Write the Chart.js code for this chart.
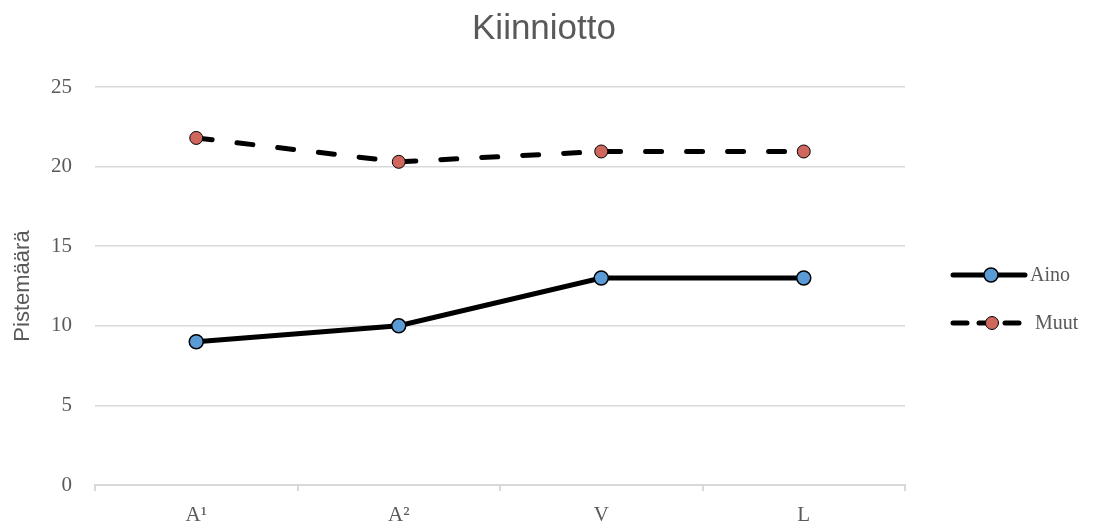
<!DOCTYPE html>
<html>
<head>
<meta charset="utf-8">
<script src="https://cdn.jsdelivr.net/npm/chart.js@4/dist/chart.umd.min.js"></script>
<style>
  html, body { margin: 0; padding: 0; background: #fff; }
  #wrap { width: 1095px; height: 528px; position: relative; }
</style>
</head>
<body>
<div id="wrap"><canvas id="c"></canvas></div>
<script>
const categories = ['A\u00B9', 'A\u00B2', 'V', 'L'];
const ainoValues = [9, 10, 13, 13];
const muutValues = [21.8, 20.3, 20.95, 20.95];
const yTicks = [0, 5, 10, 15, 20, 25];
const chartTitle = 'Kiinniotto';

const GRAY = '#595959';
const GRID = '#d9d9d9';
const SERIF = '"Liberation Serif", "DejaVu Serif", serif';
const SANS = '"Liberation Sans", Arial, sans-serif';

// Title centred on the whole canvas, plus a legend on the right drawn as
// a short line segment with the series marker in its middle
const titleAndLegend = {
  id: 'titleAndLegend',
  afterDraw(chart) {
    const ctx = chart.ctx;
    ctx.save();
    ctx.fillStyle = GRAY;
    ctx.font = '35px ' + SANS;
    ctx.textAlign = 'center';
    ctx.textBaseline = 'middle';
    ctx.fillText(chartTitle, 544, 29);
    ctx.restore();

    const rows = [
      { ds: chart.data.datasets[0], y: 275, x0: 953, x1: 1025, tx: 1030 },
      { ds: chart.data.datasets[1], y: 323, x0: 953, x1: 1027, tx: 1035 }
    ];
    rows.forEach(r => {
      ctx.save();
      ctx.strokeStyle = r.ds.borderColor;
      ctx.lineWidth = r.ds.borderWidth;
      ctx.lineCap = 'round';
      if (r.ds.borderDash) ctx.setLineDash([14, 12]);
      ctx.beginPath();
      ctx.moveTo(r.x0, r.y);
      ctx.lineTo(r.x1, r.y);
      ctx.stroke();
      ctx.setLineDash([]);
      ctx.beginPath();
      ctx.arc((r.x0 + r.x1) / 2 + 2, r.y, r.ds.pointRadius, 0, Math.PI * 2);
      ctx.fillStyle = r.ds.pointBackgroundColor;
      ctx.fill();
      ctx.lineWidth = r.ds.pointBorderWidth;
      ctx.strokeStyle = r.ds.pointBorderColor;
      ctx.stroke();
      ctx.fillStyle = GRAY;
      ctx.font = '20px ' + SERIF;
      ctx.textBaseline = 'middle';
      ctx.fillText(r.ds.label, r.tx, r.y + 1);
      ctx.restore();
    });
  }
};

new Chart(document.getElementById('c'), {
  type: 'line',
  data: {
    labels: categories,
    datasets: [
      {
        label: 'Aino',
        data: ainoValues,
        borderColor: '#000000',
        borderWidth: 5,
        pointRadius: 7,
        pointBackgroundColor: '#5b9bd5',
        pointBorderColor: '#000000',
        pointBorderWidth: 1.5,
        tension: 0
      },
      {
        label: 'Muut',
        data: muutValues,
        borderColor: '#000000',
        borderWidth: 5,
        borderDash: [16, 25],
        borderCapStyle: 'round',
        pointRadius: 6.5,
        pointBackgroundColor: '#d0675f',
        pointBorderColor: '#000000',
        pointBorderWidth: 1,
        tension: 0
      }
    ]
  },
  options: {
    responsive: true,
    maintainAspectRatio: false,
    animation: false,
    layout: { padding: { left: 10, right: 190, top: 87, bottom: 0 } },
    plugins: {
      legend: { display: false },
      tooltip: { enabled: false },
      title: { display: false }
    },
    scales: {
      x: {
        offset: true,
        afterFit(axis) { axis.height = 43; },
        border: { display: true, color: GRID, width: 2 },
        grid: {
          display: true,
          offset: true,
          drawOnChartArea: false,
          drawTicks: true,
          tickLength: 6,
          color: GRID,
          lineWidth: 2
        },
        ticks: {
          color: GRAY,
          padding: 12,
          font: { family: SERIF, size: 21 }
        }
      },
      y: {
        min: 0,
        max: 25,
        afterFit(axis) { axis.width = 85; },
        afterBuildTicks(axis) { axis.ticks = yTicks.map(v => ({ value: v })); },
        border: { display: false },
        grid: { color: GRID, lineWidth: 1.5, drawTicks: false },
        ticks: {
          color: GRAY,
          padding: 23,
          font: { family: SERIF, size: 21 }
        },
        title: {
          display: true,
          text: 'Pistemäärä',
          color: GRAY,
          padding: { top: 0, bottom: 2 },
          font: { family: SANS, size: 22 }
        }
      }
    }
  },
  plugins: [titleAndLegend]
});
</script>
</body>
</html>
